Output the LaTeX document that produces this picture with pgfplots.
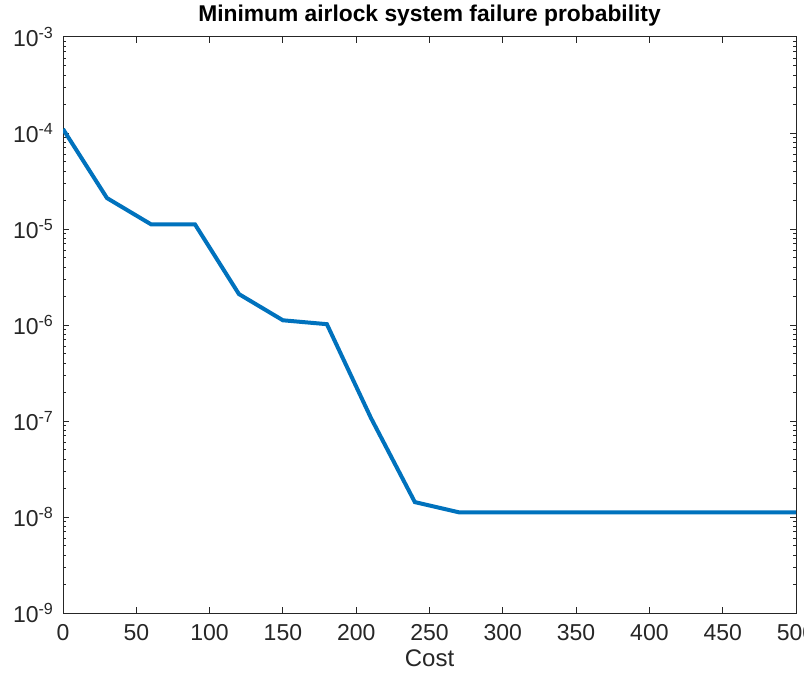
\documentclass[border=0pt]{standalone}
\usepackage{fontspec}
\setmainfont{Liberation Sans}
\usepackage{pgfplots}
\pgfplotsset{compat=1.18}

\definecolor{mblue}{rgb}{0,0.447,0.741}
\definecolor{axgray}{rgb}{0.15,0.15,0.15}

\begin{document}
\begin{tikzpicture}
\begin{axis}[
    name=ax,
    scale only axis,
    width=366.5pt, height=288pt,
    ymode=log,
    xmin=0, xmax=500,
    ymin=1e-9, ymax=1e-3,
    xtick={0,50,...,500},
    ytick={1e-9,1e-8,1e-7,1e-6,1e-5,1e-4,1e-3},
    minor ytick={2e-9,3e-9,4e-9,5e-9,6e-9,7e-9,8e-9,9e-9,
                 2e-8,3e-8,4e-8,5e-8,6e-8,7e-8,8e-8,9e-8,
                 2e-7,3e-7,4e-7,5e-7,6e-7,7e-7,8e-7,9e-7,
                 2e-6,3e-6,4e-6,5e-6,6e-6,7e-6,8e-6,9e-6,
                 2e-5,3e-5,4e-5,5e-5,6e-5,7e-5,8e-5,9e-5,
                 2e-4,3e-4,4e-4,5e-4,6e-4,7e-4,8e-4,9e-4},
    yticklabels={10\textsuperscript{-9},10\textsuperscript{-8},10\textsuperscript{-7},10\textsuperscript{-6},10\textsuperscript{-5},10\textsuperscript{-4},10\textsuperscript{-3}},
    /pgf/number format/assume math mode=true,
    tick align=inside,
    major tick length=3pt,
    minor tick length=1.6pt,
    axis line style={axgray, line width=0.5pt},
    every tick/.style={axgray, line width=0.5pt},
    tick label style={font=\fontsize{11.5}{13}\selectfont, text=axgray},
    xticklabel style={yshift=-2pt},
    yticklabel style={xshift=-1pt},
    xlabel={Cost},
    xlabel style={font=\fontsize{12}{14}\selectfont, text=axgray, yshift=2pt},
    title={\bfseries Minimum airlock system failure probability},
    title style={font=\fontsize{11.4}{13}\selectfont, yshift=-4pt},
]
\addplot[mblue, line width=2pt] coordinates {
    (0,1.1e-4) (30,2.1e-5) (60,1.12e-5) (90,1.12e-5) (120,2.1e-6)
    (150,1.12e-6) (180,1.02e-6) (210,1.08e-7) (240,1.43e-8) (270,1.12e-8)
    (300,1.12e-8) (350,1.12e-8) (400,1.12e-8) (450,1.12e-8) (500,1.12e-8)
};
\end{axis}
\pgfresetboundingbox
\path[use as bounding box] ([shift={(-31.5pt,-35pt)}]ax.south west) rectangle ([shift={(4pt,18.5pt)}]ax.north east);
\end{tikzpicture}
\end{document}
